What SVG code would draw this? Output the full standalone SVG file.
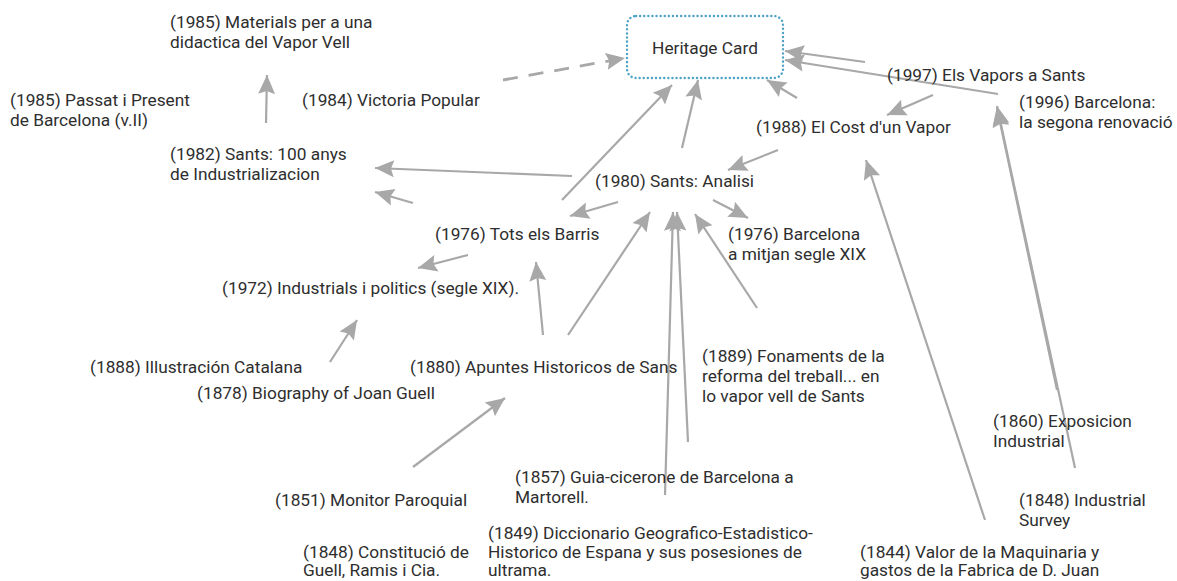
<svg xmlns="http://www.w3.org/2000/svg" width="1177" height="581" viewBox="0 0 1177 581">
<style>
text{font-family:Roboto,"Liberation Sans",sans-serif;font-size:17.3px;fill:#2e2e2e}
.c{stroke:#a8a8a8;stroke-width:2.2;fill:none;marker-end:url(#ah)}
.d{stroke-dasharray:15 11;stroke-width:2.8}
</style>
<defs>
<marker id="ah" markerUnits="userSpaceOnUse" markerWidth="20" markerHeight="18" refX="19" refY="8.5" orient="auto" overflow="visible">
<path d="M0,0 L19,8.5 L0,17 L3,8.5 z" fill="#a8a8a8"/>
</marker>
</defs>
<rect width="1177" height="581" fill="#fff"/>
<g id="connectors">
<path class="c" d="M266,123 L267,75"/>
<path class="c d" d="M503,80 L625,58"/>
<path class="c" d="M562,200 L672,85"/>
<path class="c" d="M682,148 L698,80"/>
<path class="c" d="M797,98 L767,80"/>
<path class="c" d="M865,62 L785,51"/>
<path class="c" d="M998,94 L785,60"/>
<path class="c" d="M933,95 L887,115"/>
<path class="c" d="M778,150 L728,170"/>
<path class="c" d="M572,176 L375,168"/>
<path class="c" d="M413,203 L375,192"/>
<path class="c" d="M618,202 L570,216"/>
<path class="c" d="M713,200 L748,218"/>
<path class="c" d="M468,255 L418,268"/>
<path class="c" d="M330,362 L357,320"/>
<path class="c" d="M543,335 L536,262"/>
<path class="c" d="M568,335 L650,212"/>
<path class="c" d="M665,495 L673,212"/>
<path class="c" d="M688,442 L677,212"/>
<path class="c" d="M757,308 L695,214"/>
<path class="c" d="M413,467 L505,398"/>
<path class="c" d="M985,520 L866,160"/>
<path class="c" d="M1075,468 L997,106"/>
<path class="c" d="M1057,390 L997,108"/>
</g>
<g id="heritage-card">
<rect x="627" y="16" width="156" height="62" rx="9" fill="#fff" stroke="#4fa3c7" stroke-width="2.4" stroke-dasharray="0.1 4" stroke-linecap="round"/>
<text x="705" y="54" text-anchor="middle">Heritage Card</text>
</g>
<g id="n1985-materials"><text x="170" y="28">(1985) Materials per a una</text><text x="170" y="48">didactica del Vapor Vell</text></g>
<g id="n1985-passat"><text x="10" y="106">(1985) Passat i Present</text><text x="10" y="126">de Barcelona (v.II)</text></g>
<g id="n1984"><text x="302" y="106">(1984) Victoria Popular</text></g>
<g id="n1982"><text x="170" y="160">(1982) Sants: 100 anys</text><text x="170" y="180">de Industrializacion</text></g>
<g id="n1997"><text x="887" y="81">(1997) Els Vapors a Sants</text></g>
<g id="n1996"><text x="1019" y="108">(1996) Barcelona:</text><text x="1019" y="128">la segona renovació</text></g>
<g id="n1988"><text x="756" y="133">(1988) El Cost d'un Vapor</text></g>
<g id="n1980"><text x="595" y="187">(1980) Sants: Analisi</text></g>
<g id="n1976-tots"><text x="435" y="240">(1976) Tots els Barris</text></g>
<g id="n1976-barcelona"><text x="728" y="240">(1976) Barcelona</text><text x="728" y="260">a mitjan segle XIX</text></g>
<g id="n1972"><text x="222" y="294">(1972) Industrials i politics (segle XIX).</text></g>
<g id="n1888"><text x="90" y="373">(1888) Illustración Catalana</text></g>
<g id="n1878"><text x="197" y="399">(1878) Biography of Joan Guell</text></g>
<g id="n1880"><text x="410" y="373">(1880) Apuntes Historicos de Sans</text></g>
<g id="n1889"><text x="702" y="362">(1889) Fonaments de la</text><text x="702" y="382">reforma del treball... en</text><text x="702" y="402">lo vapor vell de Sants</text></g>
<g id="n1860"><text x="993" y="427">(1860) Exposicion</text><text x="993" y="447">Industrial</text></g>
<g id="n1848-survey"><text x="1019" y="506">(1848) Industrial</text><text x="1019" y="526">Survey</text></g>
<g id="n1844"><text x="860" y="558">(1844) Valor de la Maquinaria y</text><text x="860" y="576">gastos de la Fabrica de D. Juan</text></g>
<g id="n1857"><text x="515" y="483">(1857) Guia-cicerone de Barcelona a</text><text x="515" y="503">Martorell.</text></g>
<g id="n1849"><text x="488" y="539">(1849) Diccionario Geografico-Estadistico-</text><text x="488" y="558">Historico de Espana y sus posesiones de</text><text x="488" y="576">ultrama.</text></g>
<g id="n1851"><text x="275" y="506">(1851) Monitor Paroquial</text></g>
<g id="n1848-constitucio"><text x="303" y="558">(1848) Constitució de</text><text x="303" y="576">Guell, Ramis i Cia.</text></g>
</svg>
